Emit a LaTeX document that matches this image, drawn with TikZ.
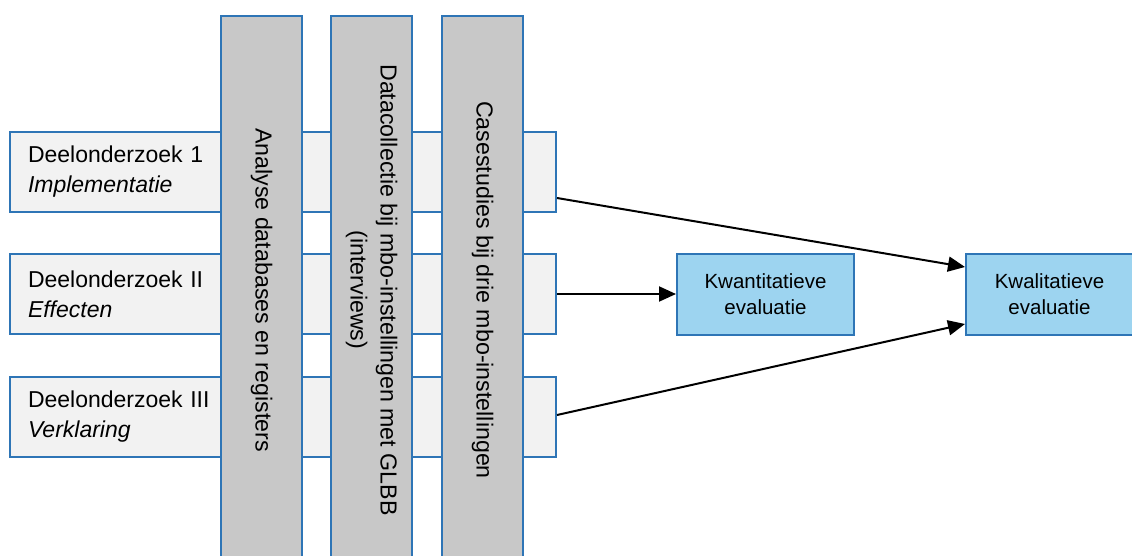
\documentclass[tikz,border=0pt]{standalone}
\usepackage{fontspec}
\setmainfont{Liberation Sans}
\usetikzlibrary{positioning}
\usetikzlibrary{arrows.meta}
\definecolor{rand}{RGB}{46,117,182}
\definecolor{deelgrijs}{RGB}{242,242,242}
\definecolor{kolomgrijs}{RGB}{200,200,200}
\definecolor{evalblauw}{RGB}{157,212,240}

\begin{document}
\begin{tikzpicture}[x=1pt, y=-1pt,
        deel/.style={draw=rand, line width=2pt, fill=deelgrijs, minimum width=546pt, minimum height=80pt,
            inner xsep=18pt, text width=510pt, align=left, font=\fontsize{23}{30}\selectfont},
        kolom/.style={draw=rand, line width=2pt, fill=kolomgrijs, rotate=-90, minimum width=548pt,
            minimum height=81pt, align=center, font=\fontsize{23.2}{30}\selectfont},
        evaluatie/.style={draw=rand, line width=2pt, fill=evalblauw, minimum height=81pt, align=center,
            font=\fontsize{20.5}{26}\selectfont},
        pijl/.style={line width=2pt, -{Triangle[length=17pt, width=15pt]}}]
    \clip (0,0) rectangle (1132,556);

    % deelonderzoeken
    \node[deel] (deel1) at (283,172) {Deelonderzoek 1\\\textit{Implementatie}};
    \node[deel, below=40pt of deel1] (deel2) {Deelonderzoek II\\\textit{Effecten}};
    \node[deel, below=41pt of deel2] (deel3) {Deelonderzoek III\\\textit{Verklaring}};

    % dataverzameling
    \node[kolom] (analyse) at (261.5,290) {Analyse databases en registers};
    \node[kolom] (datacollectie) at (371.5,290) {Datacollectie bij mbo-instellingen met GLBB\\(interviews)};
    \node[kolom] (casestudies) at (482.5,290) {Casestudies bij drie mbo-instellingen};

    % evaluaties
    \node[evaluatie, minimum width=177pt, right=119pt of deel2] (kwant) {Kwantitatieve\\evaluatie};
    \node[evaluatie, minimum width=167pt, right=110pt of kwant] (kwal) {Kwalitatieve\\evaluatie};

    \draw[pijl] ([yshift=-26pt]deel1.east) -- ([yshift=27pt]kwal.west);
    \draw[pijl] (deel2.east) -- (kwant.west);
    \draw[pijl] ([yshift=2pt]deel3.east) -- ([yshift=-30pt]kwal.west);
\end{tikzpicture}
\end{document}
